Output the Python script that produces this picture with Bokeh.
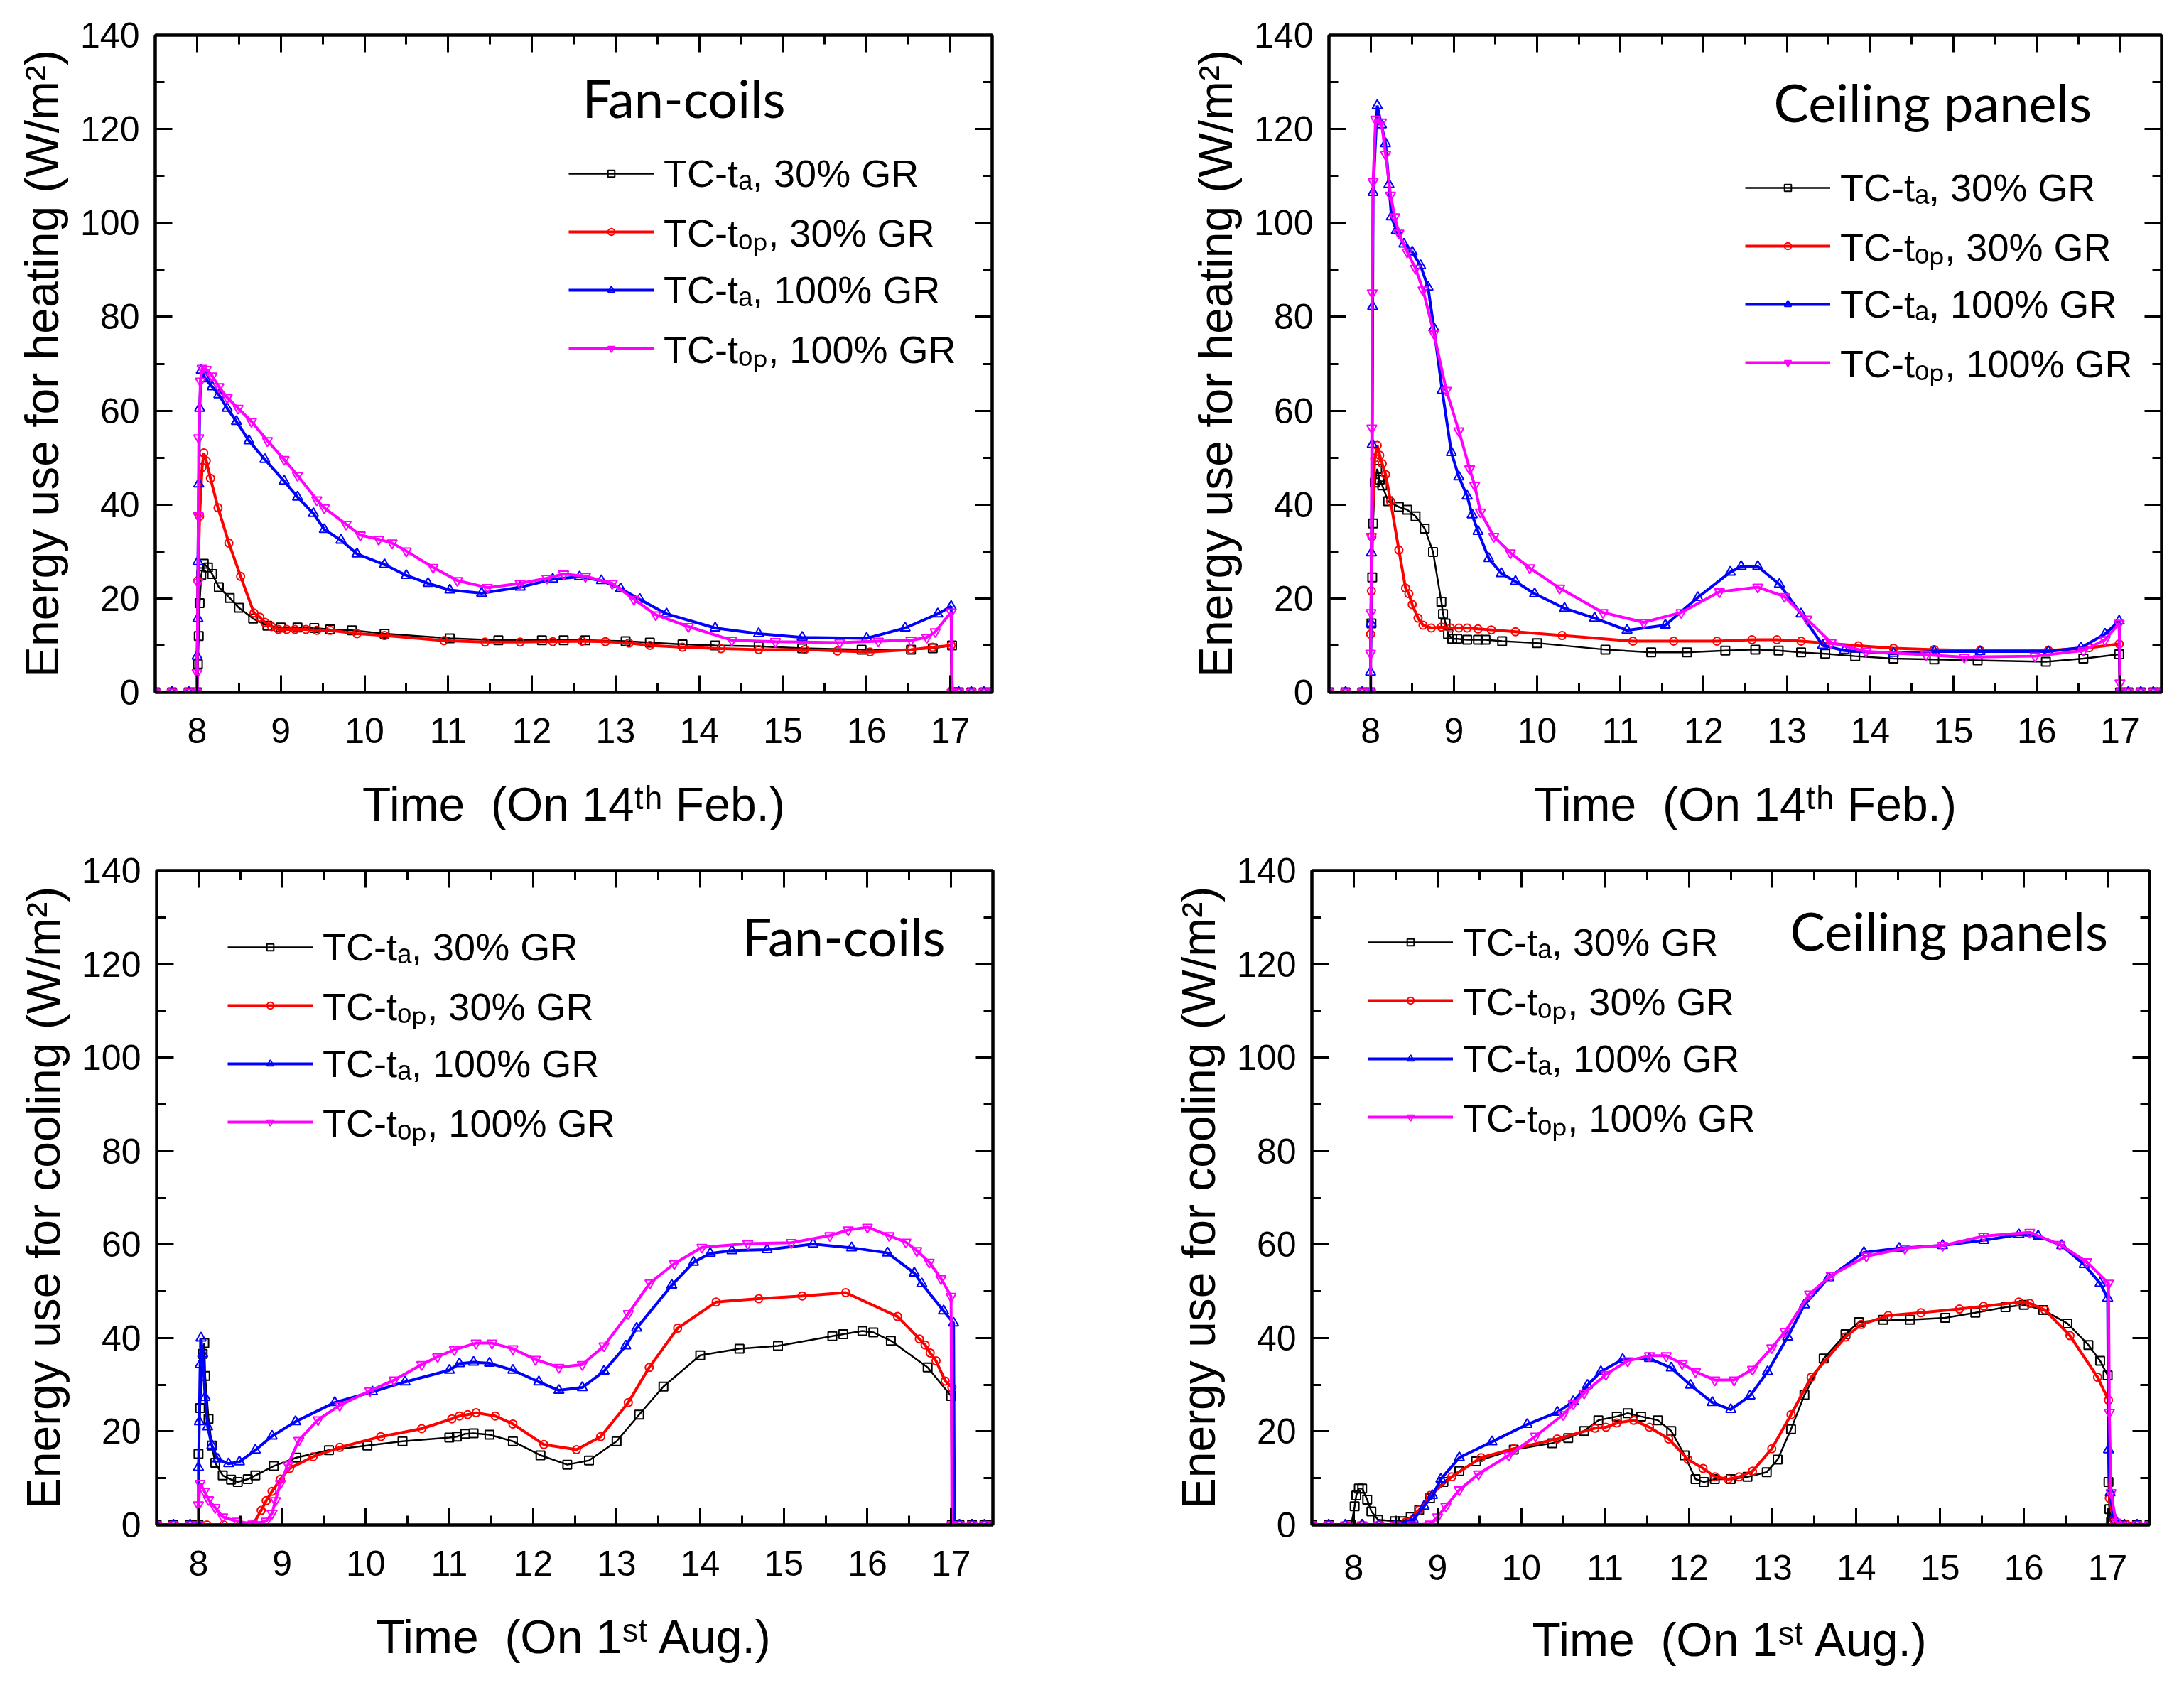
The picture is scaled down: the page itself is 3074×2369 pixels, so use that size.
from bokeh.plotting import figure
from bokeh.models import (Range1d, LinearAxis, SingleIntervalTicker, Legend, LegendItem,
                          Label, CustomJSTickFormatter)
from bokeh.layouts import column, row
from bokeh.embed import file_html
from bokeh.resources import INLINE

# ---------------- data ----------------
SERIES_LABELS = ["TC-tₐ, 30% GR", "TC-tₒₚ, 30% GR", "TC-tₐ, 100% GR", "TC-tₒₚ, 100% GR"]
SERIES_COLORS = ["#000000", "#ff0000", "#0000ff", "#ff00ff"]
SERIES_MARKERS = ["square", "circle", "triangle", "inverted_triangle"]

X_START, X_END = 7.5, 17.5
Y_START, Y_END = 0, 140

# Heating, fan-coils (14th Feb.)
hfc_t_ta30 = [7.5, 7.7, 7.9, 8.0, 8.01, 8.02, 8.03, 8.05, 8.08, 8.13, 8.18, 8.26, 8.39, 8.5, 8.67, 8.84, 9.0, 9.2, 9.4, 9.59, 9.85, 10.24, 11.02, 11.6, 12.12, 12.38, 12.64, 13.12, 13.41, 13.8, 14.19, 14.71, 15.23, 15.94, 16.53, 16.79, 17.02, 17.03, 17.1, 17.25, 17.4, 17.5]
hfc_ta30 = [0, 0, 0, 0, 6, 12, 19, 25, 27.4, 26.6, 25.2, 22.4, 20.1, 18.0, 15.7, 14.2, 13.8, 13.8, 13.7, 13.4, 13.2, 12.5, 11.5, 11.1, 11.1, 11.1, 11.1, 10.9, 10.6, 10.2, 10.0, 9.8, 9.4, 9.1, 9.1, 9.4, 10.0, 0, 0, 0, 0, 0]
hfc_t_top30 = [7.5, 7.7, 7.9, 8.0, 8.01, 8.03, 8.06, 8.08, 8.11, 8.16, 8.25, 8.38, 8.52, 8.68, 8.75, 8.81, 8.89, 8.97, 9.07, 9.17, 9.3, 9.43, 9.59, 9.91, 10.24, 10.95, 11.44, 11.86, 12.25, 12.6, 12.88, 13.16, 13.41, 13.8, 14.26, 14.71, 15.26, 15.65, 16.04, 16.53, 16.79, 17.01, 17.02, 17.1, 17.25, 17.4, 17.5]
hfc_top30 = [0, 0, 0, 0, 23.8, 37.5, 47.9, 51, 49.3, 45.6, 39.3, 31.8, 24.7, 16.9, 16.0, 14.9, 14.0, 13.4, 13.4, 13.4, 13.4, 13.2, 13.2, 12.5, 12.1, 11.0, 10.7, 10.7, 10.8, 10.9, 10.8, 10.5, 10.0, 9.6, 9.3, 9.1, 9.1, 8.8, 8.6, 9.1, 9.6, 10.0, 0, 0, 0, 0, 0]
hfc_t_ta100 = [7.5, 7.7, 7.9, 8.0, 8.0, 8.01, 8.01, 8.02, 8.03, 8.05, 8.1, 8.18, 8.26, 8.36, 8.47, 8.62, 8.81, 9.04, 9.2, 9.39, 9.52, 9.72, 9.91, 10.24, 10.5, 10.76, 11.02, 11.4, 11.86, 12.25, 12.57, 12.83, 13.06, 13.29, 13.61, 14.19, 14.71, 15.23, 16.0, 16.46, 16.85, 17.01, 17.02, 17.1, 17.25, 17.4, 17.5]
hfc_ta100 = [0, 0, 0, 0, 7.7, 15.7, 27.8, 44.4, 60.5, 68.6, 66.8, 65.1, 63.4, 60.5, 57.7, 53.6, 49.6, 45.0, 41.6, 38.1, 34.7, 32.4, 29.5, 27.2, 24.9, 23.2, 21.8, 21.1, 22.4, 24.1, 24.6, 23.8, 22.1, 19.8, 16.7, 13.7, 12.5, 11.7, 11.5, 13.7, 16.7, 18.3, 0, 0, 0, 0, 0]
hfc_t_top100 = [7.5, 7.7, 7.9, 8.0, 8.0, 8.01, 8.015, 8.02, 8.04, 8.06, 8.11, 8.18, 8.26, 8.36, 8.49, 8.65, 8.84, 9.04, 9.2, 9.43, 9.52, 9.78, 9.95, 10.17, 10.33, 10.5, 10.82, 11.11, 11.47, 11.86, 12.18, 12.38, 12.64, 12.96, 13.22, 13.48, 13.87, 14.39, 14.91, 15.68, 16.14, 16.53, 16.72, 16.82, 17.01, 17.02, 17.1, 17.25, 17.4, 17.5]
hfc_top100 = [0, 0, 0, 0, 4.2, 23.4, 37.6, 54.2, 66.3, 69.0, 68.8, 67.4, 65.1, 62.8, 60.5, 57.7, 53.6, 49.6, 46.2, 41.0, 39.3, 35.8, 33.5, 32.6, 31.8, 30.1, 26.6, 23.8, 22.3, 23.2, 24.3, 25.2, 24.7, 23.2, 19.8, 16.5, 14.0, 11.1, 10.8, 10.6, 10.9, 11.1, 11.7, 12.9, 17.1, 0, 0, 0, 0, 0]

# Heating, ceiling panels (14th Feb.)
hcp_t_ta30 = [7.5, 7.7, 7.9, 8.0, 8.01, 8.02, 8.03, 8.05, 8.08, 8.11, 8.14, 8.21, 8.34, 8.44, 8.54, 8.65, 8.75, 8.85, 8.87, 8.9, 8.93, 8.98, 9.04, 9.16, 9.29, 9.38, 9.58, 10.0, 10.82, 11.37, 11.8, 12.26, 12.62, 12.9, 13.17, 13.46, 13.82, 14.28, 14.77, 15.29, 16.11, 16.56, 16.99, 17.0, 17.1, 17.25, 17.4, 17.5]
hcp_ta30 = [0, 0, 0, 0, 14.7, 24.5, 36.0, 44.7, 47.6, 45.3, 44.1, 40.7, 39.5, 38.9, 37.5, 34.9, 29.9, 19.3, 16.7, 14.7, 12.4, 11.4, 11.4, 11.2, 11.2, 11.2, 10.9, 10.5, 9.1, 8.5, 8.5, 8.9, 9.1, 8.9, 8.5, 8.2, 7.7, 7.2, 7.0, 6.8, 6.5, 7.2, 8.1, 0, 0, 0, 0, 0]
hcp_t_top30 = [7.5, 7.7, 7.9, 8.0, 8.0, 8.01, 8.015, 8.05, 8.08, 8.11, 8.14, 8.18, 8.24, 8.34, 8.42, 8.46, 8.5, 8.57, 8.63, 8.73, 8.85, 8.96, 9.06, 9.16, 9.29, 9.45, 9.74, 10.3, 11.15, 11.64, 12.16, 12.58, 12.88, 13.17, 13.46, 13.86, 14.28, 14.77, 15.32, 16.14, 16.63, 16.99, 17.0, 17.1, 17.25, 17.4, 17.5]
hcp_top30 = [0, 0, 0, 0, 12.4, 21.6, 33.2, 49.9, 52.6, 50.5, 48.7, 46.4, 40.7, 30.3, 22.2, 21.0, 18.7, 15.8, 14.3, 13.7, 13.9, 13.7, 13.7, 13.7, 13.5, 13.3, 12.9, 12.1, 10.9, 10.9, 10.9, 11.2, 11.2, 10.9, 10.5, 9.9, 9.4, 9.1, 8.9, 8.9, 9.5, 10.3, 0, 0, 0, 0, 0]
hcp_t_ta100 = [7.5, 7.7, 7.9, 8.0, 8.0, 8.005, 8.01, 8.02, 8.025, 8.03, 8.08, 8.13, 8.18, 8.22, 8.25, 8.31, 8.4, 8.5, 8.6, 8.69, 8.76, 8.86, 8.97, 9.06, 9.16, 9.22, 9.29, 9.42, 9.57, 9.74, 9.97, 10.33, 10.69, 11.08, 11.54, 11.93, 12.32, 12.45, 12.65, 12.91, 13.17, 13.43, 13.69, 14.28, 14.77, 15.32, 16.14, 16.53, 16.82, 16.99, 17.0, 17.1, 17.25, 17.4, 17.5]
hcp_ta100 = [0, 0, 0, 0, 4.3, 14.7, 29.7, 52.8, 82.2, 106.5, 125.0, 120.9, 116.9, 108.2, 101.3, 98.4, 95.5, 93.8, 90.9, 86.3, 77.6, 64.3, 51.1, 45.9, 41.8, 37.8, 34.3, 28.5, 25.3, 23.6, 21.0, 17.9, 15.8, 13.2, 14.3, 20.2, 25.6, 26.8, 26.8, 23.0, 16.7, 10.0, 8.9, 8.3, 8.7, 8.7, 8.7, 9.5, 12.4, 15.2, 0, 0, 0, 0, 0]
hcp_t_top100 = [7.5, 7.7, 7.9, 8.0, 8.0, 8.005, 8.01, 8.015, 8.02, 8.03, 8.06, 8.13, 8.18, 8.24, 8.29, 8.34, 8.44, 8.54, 8.63, 8.76, 8.91, 9.06, 9.19, 9.25, 9.32, 9.48, 9.68, 9.91, 10.27, 10.79, 11.28, 11.73, 12.19, 12.65, 12.97, 13.24, 13.53, 13.95, 14.67, 15.13, 15.98, 16.56, 16.82, 16.99, 17.0, 17.01, 17.1, 17.25, 17.4, 17.5]
hcp_top100 = [0, 0, 0, 0, 8.3, 17.0, 33.2, 56.3, 85.1, 108.8, 122.1, 121.5, 114.6, 105.9, 101.3, 97.8, 93.8, 90.3, 85.7, 76.5, 64.3, 55.7, 47.6, 44.1, 38.4, 33.2, 29.7, 26.5, 22.2, 17.0, 14.9, 17.0, 21.4, 22.4, 20.4, 15.6, 10.6, 8.7, 8.0, 7.5, 7.7, 8.9, 11.2, 14.7, 2.0, 0, 0, 0, 0, 0]

# Cooling, fan-coils (1st Aug.)
cfc_t_ta30 = [7.5, 7.7, 7.9, 8.0, 8.0, 8.02, 8.05, 8.07, 8.08, 8.12, 8.16, 8.2, 8.29, 8.39, 8.47, 8.59, 8.68, 8.9, 9.17, 9.56, 10.02, 10.44, 11.0, 11.09, 11.19, 11.29, 11.48, 11.76, 12.09, 12.41, 12.67, 13.0, 13.27, 13.56, 14.0, 14.47, 14.93, 15.58, 15.71, 15.94, 16.07, 16.28, 16.72, 17.0, 17.01, 17.1, 17.25, 17.4, 17.5]
cfc_ta30 = [0, 0, 0, 0, 15.2, 25.0, 36.6, 38.9, 31.9, 22.7, 17.0, 13.3, 10.6, 9.7, 9.2, 9.8, 10.6, 12.6, 14.4, 16.0, 17.0, 17.9, 18.7, 18.9, 19.5, 19.6, 19.3, 17.9, 14.9, 12.9, 13.8, 17.9, 23.6, 29.6, 36.3, 37.7, 38.3, 40.4, 40.8, 41.5, 41.2, 39.4, 33.7, 27.6, 0, 0, 0, 0, 0]
cfc_t_top30 = [7.5, 7.7, 7.9, 8.0, 8.1, 8.3, 8.5, 8.65, 8.75, 8.81, 8.88, 8.98, 9.09, 9.37, 9.69, 10.18, 10.67, 11.03, 11.12, 11.22, 11.32, 11.55, 11.76, 12.13, 12.52, 12.81, 13.14, 13.39, 13.73, 14.19, 14.7, 15.22, 15.74, 16.36, 16.62, 16.69, 16.75, 16.82, 16.93, 17.01, 17.02, 17.1, 17.25, 17.4, 17.5]
cfc_top30 = [0, 0, 0, 0, 0, 0, 0, 0, 3.1, 5.2, 7.2, 9.8, 12.1, 14.6, 16.6, 18.9, 20.6, 22.7, 23.3, 23.6, 24.0, 23.3, 21.6, 17.2, 16.1, 18.9, 26.2, 33.7, 42.1, 47.7, 48.4, 49.0, 49.7, 44.6, 39.8, 38.5, 36.8, 35.1, 30.8, 29.4, 0, 0, 0, 0, 0]
cfc_t_ta100 = [7.5, 7.7, 7.9, 8.0, 8.0, 8.01, 8.02, 8.03, 8.05, 8.08, 8.11, 8.16, 8.23, 8.36, 8.49, 8.68, 8.88, 9.16, 9.63, 10.08, 10.47, 11.0, 11.12, 11.29, 11.48, 11.76, 12.07, 12.31, 12.59, 12.85, 13.11, 13.24, 13.66, 13.92, 14.12, 14.38, 14.8, 15.35, 15.81, 16.24, 16.56, 16.65, 16.91, 17.03, 17.04, 17.1, 17.25, 17.4, 17.5]
cfc_ta100 = [0, 0, 0, 0, 12.3, 22.1, 34.3, 40.0, 36.6, 27.3, 21.0, 17.0, 14.1, 13.1, 13.5, 16.0, 19.0, 22.1, 26.2, 28.5, 30.6, 33.1, 34.5, 34.8, 34.6, 33.1, 30.6, 28.8, 29.4, 32.9, 38.3, 42.1, 51.3, 56.2, 58.1, 58.7, 58.9, 60.1, 59.3, 58.2, 53.9, 51.6, 45.8, 43.2, 0, 0, 0, 0, 0]
cfc_t_top100 = [7.5, 7.7, 7.9, 8.0, 8.0, 8.02, 8.07, 8.12, 8.2, 8.29, 8.46, 8.65, 8.81, 8.88, 8.92, 8.98, 9.07, 9.2, 9.43, 9.69, 10.05, 10.34, 10.67, 10.86, 11.06, 11.32, 11.51, 11.76, 12.03, 12.31, 12.59, 12.85, 13.14, 13.4, 13.69, 14.02, 14.57, 15.09, 15.55, 15.77, 16.0, 16.26, 16.46, 16.59, 16.74, 16.88, 17.0, 17.01, 17.1, 17.25, 17.4, 17.5]
cfc_top100 = [0, 0, 0, 0, 4.3, 8.9, 7.2, 5.4, 3.7, 1.7, 0.8, 0.2, 0.8, 2.5, 5.2, 8.9, 12.9, 18.1, 22.5, 25.6, 28.7, 31.0, 34.3, 36.0, 37.5, 38.9, 38.9, 37.7, 35.4, 33.7, 34.3, 38.3, 45.2, 51.8, 55.9, 59.4, 60.2, 60.4, 61.9, 63.1, 63.7, 61.9, 60.5, 58.7, 56.2, 52.7, 48.9, 0, 0, 0, 0, 0]

# Cooling, ceiling panels (1st Aug.)
ccp_t_ta30 = [7.5, 7.7, 7.97, 8.01, 8.03, 8.06, 8.1, 8.16, 8.21, 8.29, 8.49, 8.58, 8.68, 8.78, 8.91, 9.07, 9.26, 9.46, 9.91, 10.37, 10.56, 10.75, 10.92, 11.14, 11.27, 11.43, 11.63, 11.79, 11.95, 12.08, 12.18, 12.31, 12.5, 12.7, 12.93, 13.06, 13.22, 13.38, 13.61, 13.87, 14.03, 14.32, 14.64, 15.06, 15.42, 15.78, 16.0, 16.23, 16.52, 16.77, 16.91, 17.0, 17.01, 17.02, 17.04, 17.2, 17.35, 17.5]
ccp_ta30 = [0, 0, 0, 4.0, 6.3, 7.8, 7.8, 5.4, 2.9, 1.1, 0.8, 0.8, 1.7, 3.2, 5.7, 9.2, 11.5, 13.6, 16.1, 17.5, 18.6, 20.1, 22.4, 23.2, 23.9, 23.2, 22.4, 20.1, 14.9, 9.8, 9.2, 9.8, 9.8, 10.3, 11.3, 14.0, 20.5, 27.8, 35.6, 40.8, 43.4, 43.9, 43.9, 44.3, 45.4, 46.6, 47.1, 46.0, 43.1, 38.5, 35.1, 32.0, 9.2, 3.4, 0.6, 0, 0, 0]
ccp_t_top30 = [7.5, 7.7, 7.9, 8.1, 8.3, 8.5, 8.62, 8.78, 8.91, 9.17, 9.52, 9.91, 10.43, 10.88, 11.01, 11.14, 11.34, 11.53, 11.76, 11.99, 12.17, 12.31, 12.47, 12.6, 12.76, 12.99, 13.22, 13.46, 13.87, 14.06, 14.38, 14.77, 15.23, 15.52, 15.94, 16.07, 16.25, 16.55, 16.88, 17.01, 17.02, 17.07, 17.23, 17.35, 17.5]
ccp_top30 = [0, 0, 0, 0, 0, 0, 0.6, 3.2, 6.3, 10.3, 14.4, 16.3, 18.4, 20.7, 20.9, 21.8, 22.4, 20.9, 18.4, 14.0, 12.1, 10.3, 9.8, 10.3, 11.5, 16.3, 23.6, 31.6, 40.2, 42.9, 44.8, 45.4, 46.2, 46.8, 47.7, 47.4, 46.0, 40.5, 31.6, 26.7, 5.7, 1.1, 0, 0, 0]
ccp_t_ta100 = [7.5, 7.7, 7.9, 8.1, 8.3, 8.5, 8.71, 8.84, 8.94, 9.04, 9.26, 9.65, 10.07, 10.43, 10.62, 10.79, 10.95, 11.21, 11.53, 11.79, 12.02, 12.28, 12.5, 12.73, 12.94, 13.18, 13.38, 13.67, 14.09, 14.51, 15.03, 15.52, 15.94, 16.17, 16.45, 16.72, 16.91, 17.0, 17.01, 17.03, 17.07, 17.2, 17.35, 17.5]
ccp_ta100 = [0, 0, 0, 0, 0, 0, 1.1, 4.0, 6.3, 9.8, 14.4, 17.8, 21.5, 24.1, 26.4, 29.9, 32.8, 35.4, 35.6, 33.6, 29.9, 26.2, 24.7, 27.6, 32.8, 40.2, 47.1, 52.9, 58.3, 59.2, 59.8, 60.9, 62.1, 61.8, 59.8, 55.7, 51.7, 48.5, 16.1, 6.9, 1.7, 0, 0, 0]
ccp_t_top100 = [7.5, 7.7, 7.9, 8.1, 8.3, 8.5, 8.7, 8.91, 9.0, 9.1, 9.26, 9.49, 9.85, 10.17, 10.5, 10.62, 10.75, 11.01, 11.27, 11.53, 11.73, 11.92, 12.08, 12.31, 12.54, 12.76, 12.99, 13.15, 13.44, 13.7, 14.12, 14.58, 15.03, 15.52, 16.07, 16.43, 16.75, 17.01, 17.02, 17.04, 17.1, 17.2, 17.35, 17.5]
ccp_top100 = [0, 0, 0, 0, 0, 0, 0, 0.2, 1.7, 4.0, 7.5, 10.9, 14.9, 19.0, 23.6, 25.9, 28.2, 32.2, 35.1, 36.2, 36.2, 34.5, 32.8, 31.0, 31.0, 33.3, 37.9, 41.4, 49.4, 53.4, 57.5, 59.2, 59.8, 61.8, 62.6, 60.0, 56.3, 51.7, 24.1, 6.9, 0.6, 0, 0, 0]

# ---------------- styling ----------------
TICK_FONT = "Liberation Sans"
TITLE_FONT = "Lato"
LINE_WIDTHS = [2.5, 4, 4, 4]
MARKER_SIZES = [12, 11, 14, 14]


def style_axis(ax, ticker, show_labels):
    ax.ticker = ticker
    ax.axis_line_color = "black"
    ax.axis_line_width = 4
    ax.major_tick_line_color = "black"
    ax.major_tick_line_width = 3
    ax.minor_tick_line_color = "black"
    ax.minor_tick_line_width = 3
    ax.major_tick_in = 24
    ax.major_tick_out = 0
    ax.minor_tick_in = 13
    ax.minor_tick_out = 0
    ax.major_label_text_font = TICK_FONT
    ax.major_label_text_font_size = "50px"
    ax.major_label_text_color = "black"
    ax.axis_label_text_font = TICK_FONT
    ax.axis_label_text_font_size = "66px"
    ax.axis_label_text_font_style = "normal"
    ax.axis_label_text_color = "black"
    if not show_labels:
        ax.formatter = CustomJSTickFormatter(code="return ''")
        ax.major_label_standoff = 0


def make_panel(width, height, borders, ylabel, xlabel, xstandoffs,
               title, title_xy, legend_xy, series):
    bl, br, bt, bb = borders
    p = figure(width=width, height=height,
               x_range=Range1d(X_START, X_END), y_range=Range1d(Y_START, Y_END),
               output_backend="svg", toolbar_location=None,
               min_border_left=bl, min_border_right=br, min_border_top=bt, min_border_bottom=bb,
               background_fill_color="white", border_fill_color="white")
    p.grid.visible = False
    p.outline_line_color = "black"
    p.outline_line_width = 4

    xt = lambda: SingleIntervalTicker(interval=1, num_minor_ticks=2)
    yt = lambda: SingleIntervalTicker(interval=20, num_minor_ticks=2)

    style_axis(p.xaxis[0], xt(), True)
    style_axis(p.yaxis[0], yt(), True)
    p.yaxis[0].axis_label = ylabel
    p.xaxis[0].axis_label = xlabel
    p.xaxis[0].major_label_standoff = xstandoffs[0]
    p.xaxis[0].axis_label_standoff = xstandoffs[1]
    p.yaxis[0].major_label_standoff = 22
    p.yaxis[0].axis_label_standoff = 14

    top = LinearAxis()
    style_axis(top, xt(), False)
    p.add_layout(top, "above")
    right = LinearAxis()
    style_axis(right, yt(), False)
    p.add_layout(right, "right")

    items = []
    for i, (t, v) in enumerate(series):
        n = min(len(t), len(v))
        t, v = t[:n], v[:n]
        lr = p.line(x=t, y=v, line_color=SERIES_COLORS[i], line_width=LINE_WIDTHS[i])
        sr = p.scatter(x=t, y=v, marker=SERIES_MARKERS[i], size=MARKER_SIZES[i],
                       line_color=SERIES_COLORS[i], fill_color=None, line_width=2)
        items.append(LegendItem(label=SERIES_LABELS[i], renderers=[lr, sr]))

    legend = Legend(items=items, location=legend_xy, orientation="vertical",
                    label_text_font=TICK_FONT, label_text_font_size="54px",
                    label_text_color="black",
                    glyph_width=120, glyph_height=24, label_height=82,
                    spacing=0, padding=0, margin=0, label_standoff=14,
                    border_line_color=None, background_fill_alpha=0)
    p.add_layout(legend)

    p.add_layout(Label(x=title_xy[0], y=title_xy[1], x_units="screen", y_units="screen",
                       text=title, text_font=TITLE_FONT, text_font_size="74px",
                       text_color="black", text_baseline="alphabetic"))
    return p


heat_ylabel = "Energy use for heating (W/m²)"
cool_ylabel = "Energy use for cooling (W/m²)"
feb_xlabel = "Time\u00a0\u00a0(On 14ᵗʰ Feb.)"
aug_xlabel = "Time\u00a0\u00a0(On 1ˢᵗ Aug.)"

p1 = make_panel(1632, 1172, (218, 236, 44, 198), heat_ylabel, feb_xlabel, (36, 46),
                "Fan-coils", (601, 837), (582, 443),
                [(hfc_t_ta30, hfc_ta30), (hfc_t_top30, hfc_top30),
                 (hfc_t_ta100, hfc_ta100), (hfc_t_top100, hfc_top100)])
p2 = make_panel(1426, 1172, (238, 16, 49, 198), heat_ylabel, feb_xlabel, (36, 46),
                "Ceiling panels", (626, 831), (586, 423),
                [(hcp_t_ta30, hcp_ta30), (hcp_t_top30, hcp_top30),
                 (hcp_t_ta100, hcp_ta100), (hcp_t_top100, hcp_top100)])
p3 = make_panel(1632, 1181, (220, 235, 47, 207), cool_ylabel, aug_xlabel, (36, 46),
                "Fan-coils", (824, 829), (100, 526),
                [(cfc_t_ta30, cfc_ta30), (cfc_t_top30, cfc_top30),
                 (cfc_t_ta100, cfc_ta100), (cfc_t_top100, cfc_top100)])
p4 = make_panel(1426, 1181, (214, 33, 53, 198), cool_ylabel, aug_xlabel, (42, 44),
                "Ceiling panels", (673, 837), (79, 533),
                [(ccp_t_ta30, ccp_ta30), (ccp_t_top30, ccp_top30),
                 (ccp_t_ta100, ccp_ta100), (ccp_t_top100, ccp_top100)])

layout = column(row(p1, p2), row(p3, p4))

with open("out.html", "w") as f:
    f.write(file_html(layout, INLINE))
